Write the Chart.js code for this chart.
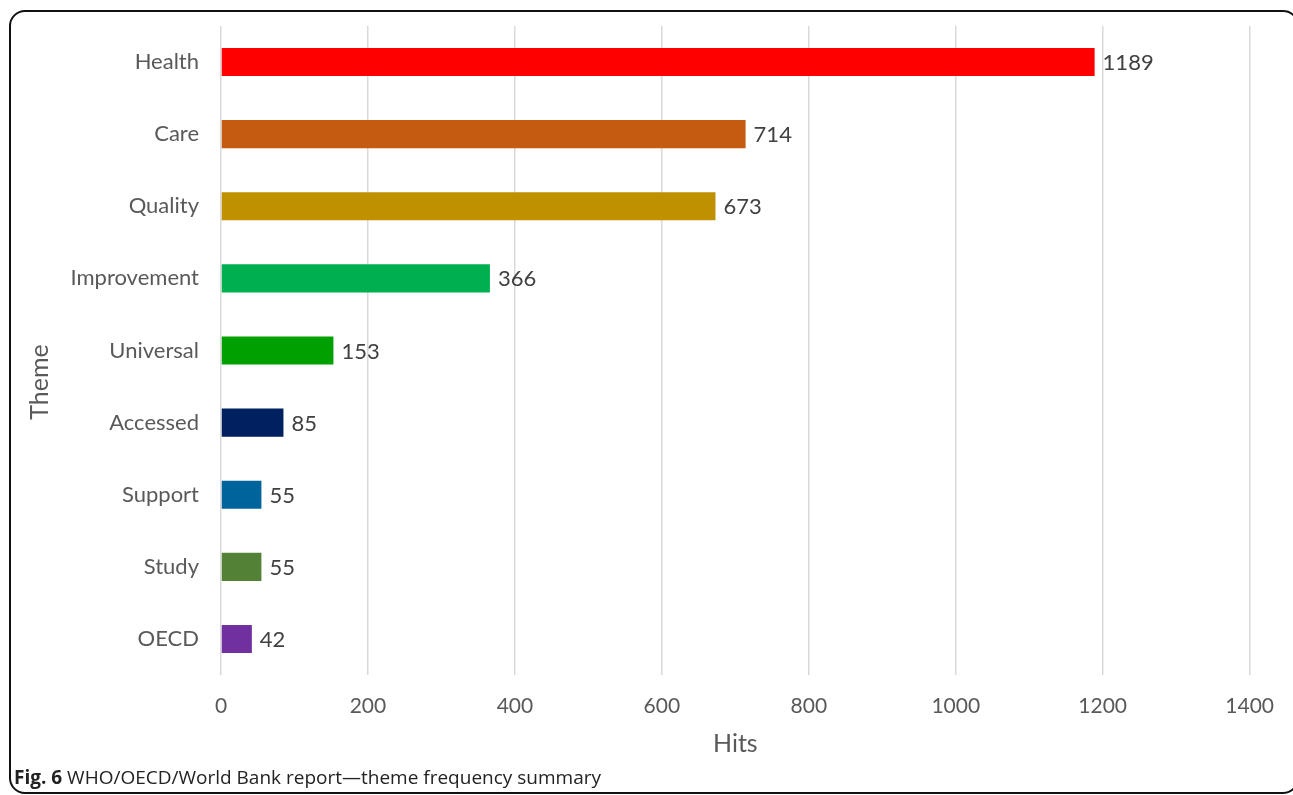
<!DOCTYPE html>
<html>
<head>
<meta charset="utf-8">
<script src="https://cdn.jsdelivr.net/npm/chart.js@4/dist/chart.umd.min.js"></script>
<style>
  html, body { margin: 0; padding: 0; background: #fff; }
  #wrap { position: relative; width: 1293px; height: 795px; overflow: hidden; }
  #frame {
    position: absolute; left: 9px; top: 10px; width: 1290px; height: 784px;
    border: 2px solid #111; border-radius: 16px; box-sizing: border-box;
  }
  #chartBox { position: absolute; left: 0; top: 0; width: 1293px; height: 770px; }
  #caption {
    position: absolute; left: 14px; top: 764px;
    font-family: "Open Sans", sans-serif; font-size: 19px; color: #222;
  }
  #caption b { font-weight: bold; }
</style>
</head>
<body>
<div id="wrap">
  <div id="frame"></div>
  <div id="chartBox"><canvas id="themeChart"></canvas></div>
  <div id="caption"><b>Fig. 6</b> WHO/OECD/World Bank report—theme frequency summary</div>
</div>
<script>
// theme frequency data
const themes = ['Health', 'Care', 'Quality', 'Improvement', 'Universal', 'Accessed', 'Support', 'Study', 'OECD'];
const hits = [1189, 714, 673, 366, 153, 85, 55, 55, 42];
const barColors = ['#ff0000', '#c55a11', '#bf9000', '#00b050', '#00a000', '#002060', '#00649c', '#538135', '#7030a0'];

const labelFont = 'Lato, "Open Sans", sans-serif';

// value labels to the right of each bar, plus the "Theme" axis title
const valueLabels = {
    id: 'valueLabels',
    afterDatasetsDraw(chart) {
        const ctx = chart.ctx;
        const meta = chart.getDatasetMeta(0);
        ctx.save();
        ctx.font = '22px ' + labelFont;
        ctx.fillStyle = '#404040';
        ctx.textAlign = 'left';
        ctx.textBaseline = 'middle';
        meta.data.forEach((bar, i) => {
            ctx.fillText(String(hits[i]), bar.x + 8, bar.y + 1);
        });
        // y axis title sits a bit below the middle in the original
        ctx.font = '25px ' + labelFont;
        ctx.fillStyle = '#595959';
        ctx.textAlign = 'center';
        ctx.translate(40, 382);
        ctx.rotate(-Math.PI / 2);
        ctx.fillText('Theme', 0, 0);
        ctx.restore();
    }
};

const themeCtx = document.getElementById('themeChart').getContext('2d');
const themeChart = new Chart(themeCtx, {
    type: 'bar',
    data: {
        labels: themes,
        datasets: [{
            label: 'Hits',
            data: hits,
            backgroundColor: barColors,
            borderWidth: 0,
            barPercentage: 0.39,
            categoryPercentage: 1
        }]
    },
    options: {
        indexAxis: 'y',
        responsive: true,
        maintainAspectRatio: false,
        animation: false,
        layout: { padding: { left: 12, top: 26, right: 42, bottom: 0 } },
        plugins: {
            legend: { display: false },
            tooltip: { enabled: false }
        },
        scales: {
            x: {
                min: 0,
                max: 1400,
                ticks: {
                    stepSize: 200,
                    padding: 19,
                    color: '#595959',
                    font: { family: labelFont, size: 21 },
                    callback: (v) => String(v)
                },
                grid: { color: '#d9d9d9', lineWidth: 1.5, drawTicks: false },
                border: { display: false },
                title: {
                    display: true,
                    text: 'Hits',
                    color: '#595959',
                    font: { family: labelFont, size: 25 },
                    padding: { top: 4, bottom: 11 }
                },
                afterFit(scale) { scale.height = 95; }
            },
            y: {
                ticks: {
                    padding: 22,
                    color: '#595959',
                    font: { family: labelFont, size: 22 }
                },
                grid: { display: false, drawTicks: false },
                border: { display: false },
                afterFit(scale) {
                    scale.width = 209;
                    scale.paddingTop = 0;
                    scale.paddingBottom = 0;
                }
            }
        }
    },
    plugins: [valueLabels]
});
</script>
</body>
</html>
